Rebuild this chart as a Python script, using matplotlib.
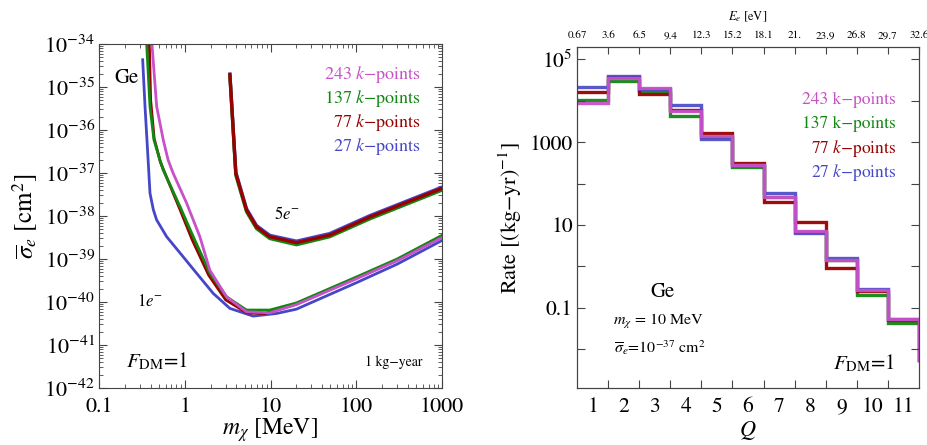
import numpy as np
import matplotlib
matplotlib.use("Agg")
from matplotlib import pyplot as plt
from matplotlib import ticker

plt.rcParams['font.family'] = 'STIXGeneral'
plt.rcParams['mathtext.fontset'] = 'stix'

# colours for the four k-point grids
c243 = '#c850c8'
c137 = '#118811'
c77 = '#990000'
c27 = '#4646c8'

# ---- left panel: reach curves (1 electron and 5 electron thresholds) ----
m_1e_27 = [0.323, 0.344, 0.375, 0.393, 0.43, 0.47, 0.615, 0.96, 1.37, 2.15, 3.36, 6.28, 11.7, 20, 100, 300, 1000]
s_1e_27 = [4.3e-35, 3.5e-36, 1.8e-37, 3.4e-38, 1.4e-38, 8.1e-39, 3.3e-39, 1.12e-39, 4.7e-40, 1.58e-40,
           7.1e-41, 4.7e-41, 5.4e-41, 6.8e-41, 2.8e-40, 7.6e-40, 2.7e-39]

m_1e_77 = [0.385, 0.40, 0.44, 0.52, 0.60, 0.88, 1.22, 1.9, 3.0, 5.3, 8.5, 20, 100, 300, 1000]
s_1e_77 = [1.3e-34, 5.0e-36, 6.3e-37, 1.78e-37, 8.9e-38, 1.41e-38, 2.8e-39, 4.2e-40, 1.12e-40,
           5.6e-41, 5.4e-41, 8.9e-41, 3.6e-40, 9.5e-40, 3.4e-39]

m_1e_137 = [0.357, 0.393, 0.437, 0.514, 0.561, 0.879, 1.256, 1.96, 3.07, 5.25, 9.8, 20, 100, 300, 1000]
s_1e_137 = [1.3e-34, 3.55e-36, 5.9e-37, 2.0e-37, 1.17e-37, 1.66e-38, 3.3e-39, 4.7e-40, 1.32e-40,
            6.5e-41, 6.5e-41, 9.5e-41, 3.8e-40, 1.0e-39, 3.55e-39]

m_1e_243 = [0.41, 0.47, 0.561, 0.64, 0.73, 1.05, 1.50, 1.96, 3.07, 5.25, 9.8, 20, 100, 300, 1000]
s_1e_243 = [1.3e-34, 3.55e-36, 5.9e-37, 2.0e-37, 1.0e-37, 2.0e-38, 3.3e-39, 5.5e-40, 1.32e-40,
            5.9e-41, 5.6e-41, 8.7e-41, 3.45e-40, 9.1e-40, 3.15e-39]

m_5e = [3.36, 3.94, 5.25, 6.87, 9.8, 20.1, 49, 144, 1000]
s_5e_27 = [2.0e-35, 1.05e-37, 1.48e-38, 6.0e-39, 3.55e-39, 2.6e-39, 3.9e-39, 1.02e-38, 4.7e-38]
s_5e_77 = [1.95e-35, 9.8e-38, 1.38e-38, 5.6e-39, 3.3e-39, 2.4e-39, 3.6e-39, 9.5e-39, 4.4e-38]
s_5e_137 = [1.8e-35, 8.9e-38, 1.26e-38, 5.1e-39, 3.0e-39, 2.15e-39, 3.3e-39, 8.6e-39, 4.0e-38]

sigma_ticks = [1e-42, 1e-41, 1e-40, 1e-39, 1e-38, 1e-37, 1e-36, 1e-35, 1e-34]
mass_ticks = [0.1, 1, 10, 100, 1000]

# ---- right panel: binned rates vs number of electrons Q ----
Q = [1, 2, 3, 4, 5, 6, 7, 8, 9, 10, 11, 12]
rate_27 = [2.19e4, 4.03e4, 1.9e4, 8.05e3, 1.22e3, 288, 58.3, 6.41, 1.58, 0.282, 0.0531, 0.0056]
rate_77 = [1.66e4, 3.72e4, 1.48e4, 6.03e3, 1.65e3, 312, 35.4, 11.6, 0.92, 0.251, 0.0501, 0.0056]
rate_137 = [1.05e4, 3.05e4, 1.76e4, 4.24e3, 1.35e3, 254, 46.8, 6.61, 1.46, 0.20, 0.0437, 0.0056]
rate_243 = [8.7e3, 3.6e4, 2.0e4, 5.69e3, 1.41e3, 284, 48.4, 7.0, 1.46, 0.275, 0.0525, 0.0056]
E_labels = ['0.67', '3.6', '6.5', '9.4', '12.3', '15.2', '18.1', '21.', '23.9', '26.8', '29.7', '32.6']

fig = plt.figure(figsize=(9.28, 4.45), dpi=100)

# left
ax1 = fig.add_axes([0.1067, 0.1281, 0.3696, 0.773])
ax1.set_xscale('log')
ax1.set_yscale('log')
lw = 2.0
ax1.plot(m_1e_27, s_1e_27, color=c27, lw=lw)
ax1.plot(m_1e_77, s_1e_77, color=c77, lw=lw)
ax1.plot(m_1e_137, s_1e_137, color=c137, lw=lw)
ax1.plot(m_1e_243, s_1e_243, color=c243, lw=lw)
ax1.plot(m_5e, s_5e_27, color=c27, lw=2.4)
ax1.plot(m_5e, s_5e_137, color=c137, lw=2.4)
ax1.plot(m_5e, s_5e_77, color=c77, lw=2.4)
ax1.set_xlim(0.1, 1000)
ax1.set_ylim(1e-42, 1e-34)
ax1.set_yticks(sigma_ticks)
ax1.yaxis.set_minor_locator(ticker.LogLocator(base=10, subs=np.arange(2, 10), numticks=100))
ax1.yaxis.set_major_formatter(ticker.LogFormatterMathtext())
ax1.yaxis.set_minor_formatter(ticker.NullFormatter())
ax1.set_xticks(mass_ticks, ['%g' % v for v in mass_ticks])
ax1.xaxis.set_minor_formatter(ticker.NullFormatter())
ax1.tick_params(which='both', direction='in', top=True, right=True, color='#444444')
ax1.tick_params(which='major', length=6, labelsize=16, pad=3)
ax1.tick_params(axis='x', which='major', pad=7)
ax1.tick_params(which='minor', length=3)
for s in ax1.spines.values():
    s.set_color('#444444')

ax1.text(0.079, 0.901, 'Ge', transform=ax1.transAxes, ha='center', va='center', fontsize=15)
leg_left = [('243 $k$\u2212points', c243), ('137 $k$\u2212points', c137),
            ('77 $k$\u2212points', c77), ('27 $k$\u2212points', c27)]
for i, (t, c) in enumerate(leg_left):
    ax1.text(0.940, 0.910 - i * 0.0695, t, transform=ax1.transAxes, ha='right', va='center',
             color=c, fontsize=13)
ax1.text(0.149, 0.251, '$1e^{-}$', transform=ax1.transAxes, ha='center', va='center', fontsize=12)
ax1.text(0.547, 0.503, '$5e^{-}$', transform=ax1.transAxes, ha='center', va='center', fontsize=12)
ax1.text(0.168, 0.077, '$F_{\\mathrm{DM}}$=1', transform=ax1.transAxes, ha='center', va='center', fontsize=15)
ax1.text(0.944, 0.075, '1 kg\u2212year', transform=ax1.transAxes, ha='right', va='center', fontsize=10)

fig.text(25 / 928, 1 - 216 / 445, '$\\overline{\\sigma}_e$ [cm$^2$]', rotation=90,
         ha='center', va='center', fontsize=18)
fig.text(270 / 928, 1 - 430 / 445, '$m_\\chi$ [MeV]', ha='center', va='center', fontsize=17)

# right
ax2 = fig.add_axes([0.6218, 0.1281, 0.3685, 0.7663])
ax2.set_yscale('log')
edges = list(np.array(Q) - 0.5) + [Q[-1] + 0.5]
ax2.stairs(rate_137, edges, baseline=None, color=c137, lw=2.4, alpha=0.95)
ax2.stairs(rate_77, edges, baseline=None, color=c77, lw=2.4, alpha=0.95)
ax2.stairs(rate_27, edges, baseline=None, color=c27, lw=2.4, alpha=0.9)
ax2.stairs(rate_243, edges, baseline=None, color=c243, lw=2.4, alpha=0.95)
ax2.set_xlim(0.5, 11.5)
ax2.set_ylim(1.15e-3, 2e5)
ax2.set_yticks([1e5, 1e4, 1e3, 100, 10, 1, 0.1, 0.01],
               ['$10^5$', '', '1000', '', '10', '', '0.1', ''])
ax2.yaxis.set_minor_locator(ticker.NullLocator())
ax2.set_xticks(edges[1:-2], [''] * len(edges[1:-2]))
ax2.set_xticks(Q[:-1], [str(q) for q in Q[:-1]], minor=True)
ax2.tick_params(which='both', direction='in', right=True, color='#444444')
ax2.tick_params(which='major', length=6, labelsize=15.5, pad=3)
ax2.tick_params(axis='x', which='minor', length=0, labelsize=15.5, pad=7)
for s in ax2.spines.values():
    s.set_color('#444444')

ax3 = ax2.twiny()
ax3.set_xlim(0.5, 11.5)
ax3.set_xticks(edges[:-1], E_labels)
ax3.tick_params(direction='in', length=5, labelsize=8, pad=5, color='#444444')
for s in ax3.spines.values():
    s.set_color('#444444')

leg_right = [('243 k\u2212points', c243), ('137 k\u2212points', c137),
             ('77 $k$\u2212points', c77), ('27 $k$\u2212points', c27)]
for i, (t, c) in enumerate(leg_right):
    ax2.text(0.933, 0.845 - i * 0.0715, t, transform=ax2.transAxes, ha='right', va='center',
             color=c, fontsize=12.5)
ax2.text(0.251, 0.282, 'Ge', transform=ax2.transAxes, ha='center', va='center', fontsize=15)
ax2.text(0.105, 0.194, '$m_\\chi$ = 10 MeV', transform=ax2.transAxes, ha='left', va='center', fontsize=11.5)
ax2.text(0.108, 0.117, '$\\overline{\\sigma}_e$=10$^{-37}$ cm$^2$', transform=ax2.transAxes,
         ha='left', va='center', fontsize=11.5)
ax2.text(0.930, 0.073, '$F_{\\mathrm{DM}}$=1', transform=ax2.transAxes, ha='right', va='center', fontsize=15)

fig.text(510 / 928, 1 - 218 / 445, 'Rate [(kg\u2212yr)$^{-1}$]', rotation=90,
         ha='center', va='center', fontsize=16)
fig.text(748 / 928, 1 - 431 / 445, '$Q$', ha='center', va='center', fontsize=16)
fig.text(748 / 928, 1 - 17 / 445, '$E_e$ [eV]', ha='center', va='center', fontsize=9)

fig.savefig('out.png', dpi=100)
